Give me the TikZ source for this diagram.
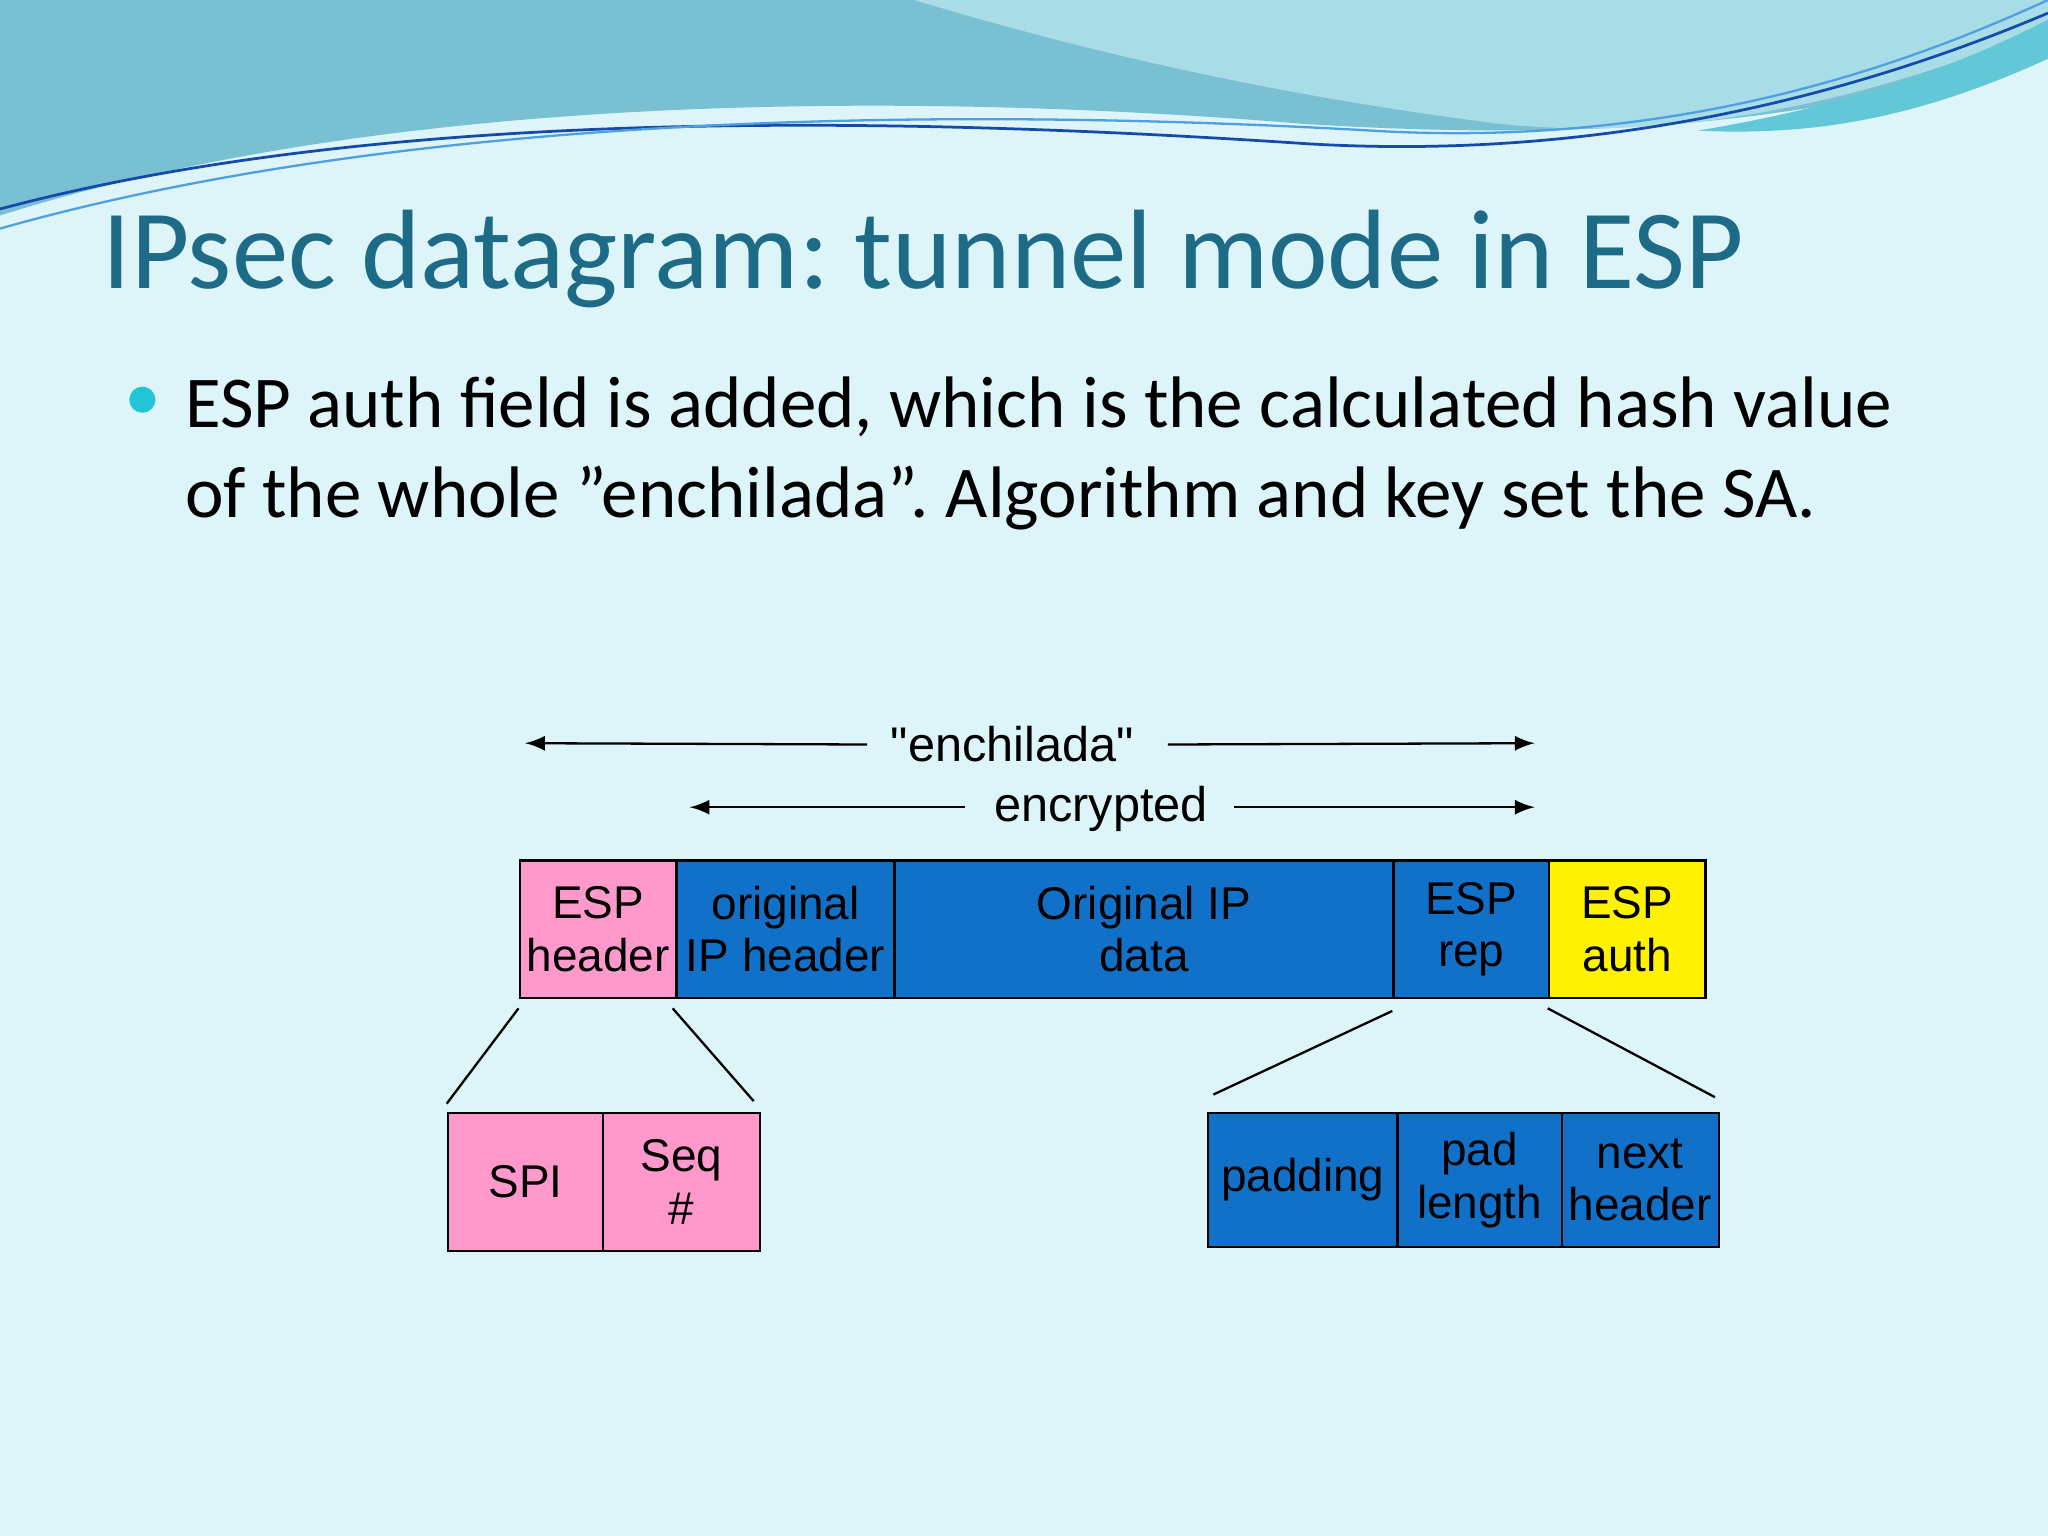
\documentclass[tikz,border=0pt]{standalone}
\usepackage{fontspec}
\setmainfont{Carlito}
\newfontfamily\arial{Liberation Sans}
\frenchspacing
\begin{document}
\begin{tikzpicture}[x=0.1mm,y=-0.1mm,
  fld/.style={draw=black,line width=0.5pt,minimum height=10.5mm,inner sep=0pt,font=\arial\fontsize{10}{11.5}\selectfont,align=center},
  pk/.style={fld,fill=pinkc}, bl/.style={fld,fill=bluec}, yl/.style={fld,fill=yellow},
  lbl/.style={font=\arial\fontsize{10}{12}\selectfont,inner sep=1pt},
  arr/.style={-latex,line width=0.5pt},
  lnk/.style={line width=0.5pt}]
\definecolor{bg}{HTML}{DDF4F8}
\definecolor{pinkc}{HTML}{FF99CC}
\definecolor{bluec}{HTML}{1170C8}
\definecolor{titlec}{HTML}{1D6B86}
\definecolor{wave1}{HTML}{78C0D2}
\definecolor{wave2}{HTML}{A8DCE6}
\definecolor{wave3}{HTML}{62C8D8}
\definecolor{bulc}{HTML}{22C5D5}
\fill[bg] (0,0) rectangle (1568,1176);
\useasboundingbox (0,0) rectangle (1568,1176);
% waves
\fill[wave1] (0,0) -- (1568,0) -- (1568,40) .. controls (1400,90) and (1250,110) .. (1000,95) .. controls (700,70) and (300,70) .. (0,165) -- cycle;
\fill[wave2] (700,0) -- (1568,0) -- (1568,20) .. controls (1450,70) and (1300,110) .. (1150,95) .. controls (950,70) and (800,30) .. (700,0) -- cycle;
\fill[wave3] (1300,100) .. controls (1420,80) and (1500,50) .. (1568,15) -- (1568,45) .. controls (1480,85) and (1400,105) .. (1300,100) -- cycle;
\draw[titlec!70!blue,line width=0.6pt] (0,160) .. controls (300,80) and (700,90) .. (1000,110) .. controls (1250,125) and (1450,60) .. (1568,10);
\draw[wave3!80!blue,line width=0.5pt] (0,175) .. controls (300,90) and (700,80) .. (1050,100) .. controls (1300,115) and (1480,40) .. (1568,0);
% title and bullet
\node[anchor=west,text=titlec,font=\fontsize{24.6}{28}\selectfont,inner sep=0pt] (title) at (78,198) {IPsec datagram: tunnel mode in ESP};
\fill[bulc] (109,306) circle (10);
\node[anchor=north west,font=\fontsize{15.9}{19.5}\selectfont,inner sep=0pt,align=left] (bul) at (141,288) {ESP auth field is added, which is the calculated hash value\\of the whole \char"22 enchilada\char"22. Algorithm and key set the SA.};
% main fields
\node[pk,minimum width=12mm,anchor=north west] (esph) at (397,658) {ESP\\header};
\node[bl,minimum width=16.7mm,anchor=north west] (oiph) at (517,658) {original\\IP header};
\node[bl,minimum width=38.2mm,anchor=north west] (oipd) at (684,658) {Original IP\\data};
\node[bl,minimum width=11.9mm,anchor=north west] (espr) at (1066,658) {ESP\\rep};
\node[yl,minimum width=12mm,anchor=north west] (espa) at (1185,658) {ESP\\auth};
% sub fields
\node[pk,minimum width=11.9mm,minimum height=10.6mm,anchor=north west] (spi) at (342,851) {SPI};
\node[pk,minimum width=12mm,minimum height=10.6mm,anchor=north west] (seq) at (461,851) {Seq\\\#};
\node[bl,minimum width=14.5mm,minimum height=10.3mm,anchor=north west] (pad) at (924,851) {padding};
\node[bl,minimum width=12.6mm,minimum height=10.3mm,anchor=north west] (padl) at (1069,851) {pad\\length};
\node[bl,minimum width=12mm,minimum height=10.3mm,anchor=north west] (nxt) at (1195,851) {next\\header};
% links
\coordinate (a1) at (397,772); \coordinate (a2) at (342,845);
\coordinate (b1) at (515,772); \coordinate (b2) at (577,843);
\coordinate (c1) at (1066,774); \coordinate (c2) at (929,838);
\coordinate (d1) at (1185,772); \coordinate (d2) at (1313,840);
\draw[lnk] (a1) -- (a2); \draw[lnk] (b1) -- (b2);
\draw[lnk] (c1) -- (c2); \draw[lnk] (d1) -- (d2);
% arrows
\node[lbl,font=\arial\fontsize{10.6}{12}\selectfont] (ench) at (775,570) {"enchilada"};
\coordinate (e1) at (402,569); \coordinate (e2) at (1175,569);
\draw[arr] (ench.west) ++(-14,0) -- (e1);
\draw[arr] (ench.east) ++(22,0) -- (e2);
\node[lbl,font=\arial\fontsize{10.6}{12}\selectfont] (encr) at (843,619) {encrypted};
\coordinate (f1) at (528,618); \coordinate (f2) at (1175,618);
\draw[arr] (encr.west) ++(-18,-1) -- (f1);
\draw[arr] (encr.east) ++(16,-1) -- (f2);
\end{tikzpicture}
\end{document}
